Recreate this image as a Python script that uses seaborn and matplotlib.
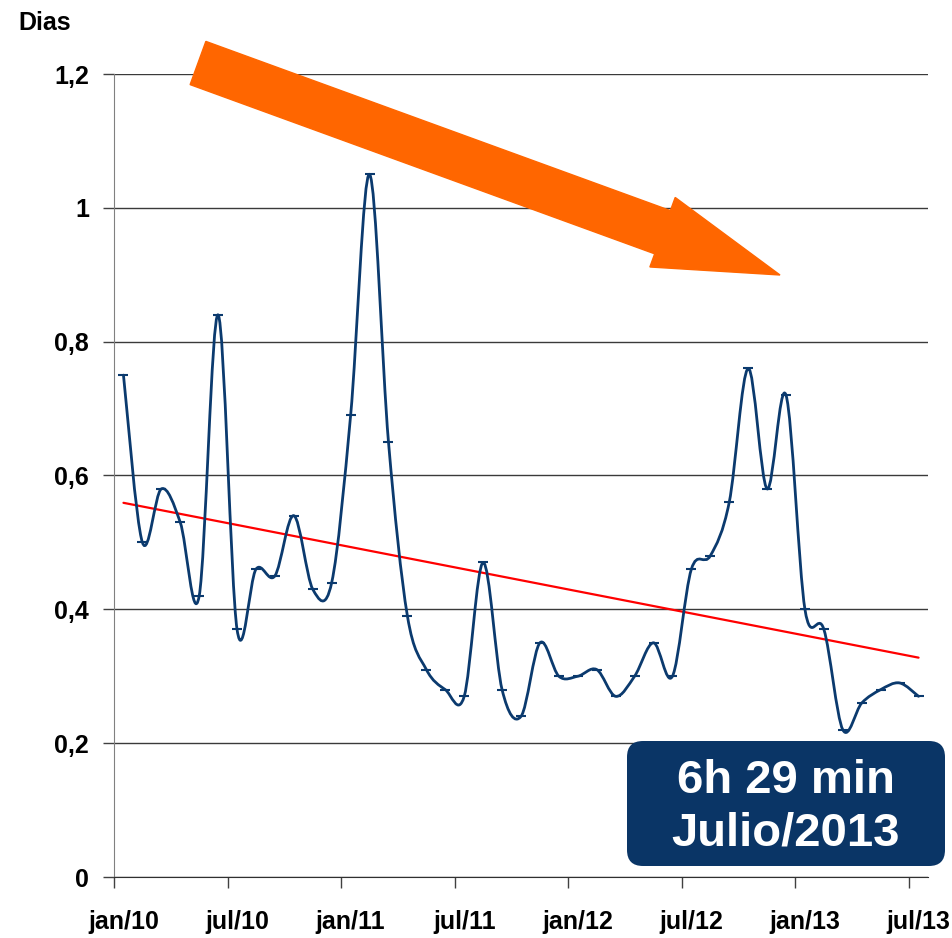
import numpy as np
import seaborn as sns
import matplotlib.pyplot as plt
from matplotlib.path import Path
from matplotlib.patches import PathPatch, FancyArrow, FancyBboxPatch
from matplotlib.transforms import IdentityTransform

# datos mensuales jan/10 .. jul/13 (dias)
valores = [0.75, 0.50, 0.58, 0.53, 0.42, 0.84, 0.37, 0.46, 0.45, 0.54, 0.43, 0.44,
           0.69, 1.05, 0.65, 0.39, 0.31, 0.28, 0.27, 0.47, 0.28, 0.24, 0.35, 0.30,
           0.30, 0.31, 0.27, 0.30, 0.35, 0.30, 0.46, 0.48, 0.56, 0.76, 0.58, 0.72,
           0.40, 0.37, 0.22, 0.26, 0.28, 0.29, 0.27]
etiquetas_x = ['jan/10', 'jul/10', 'jan/11', 'jul/11', 'jan/12', 'jul/12', 'jan/13', 'jul/13']
ticks_y = [0, 0.2, 0.4, 0.6, 0.8, 1.0, 1.2]
etiquetas_y = ['0', '0,2', '0,4', '0,6', '0,8', '1', '1,2']

azul = '#0B3A6E'
naranja = '#FF6600'

sns.set_style('white')
plt.rcParams['font.family'] = ['Liberation Sans', 'DejaVu Sans']
plt.rcParams['font.weight'] = 'bold'
plt.rcParams['text.color'] = 'black'
plt.rcParams['xtick.labelcolor'] = 'black'
plt.rcParams['ytick.labelcolor'] = 'black'

fig = plt.figure(figsize=(9.53, 9.38), dpi=100)
ax = fig.add_axes([114 / 953, 1 - 877 / 938, (928 - 114) / 953, (877 - 74) / 938])

x = np.arange(len(valores))
y = np.array(valores)

# linea suavizada (bezier tipo Excel)
pts = np.column_stack([x, y])
n = len(pts)
verts = [pts[0]]
codes = [Path.MOVETO]
for i in range(n - 1):
    p0 = pts[max(i - 1, 0)]
    p1 = pts[i]
    p2 = pts[i + 1]
    p3 = pts[min(i + 2, n - 1)]
    verts += [p1 + (p2 - p0) / 6, p2 - (p3 - p1) / 6, p2]
    codes += [Path.CURVE4] * 3
ax.add_patch(PathPatch(Path(verts, codes), fill=False, edgecolor=azul, lw=2,
                       joinstyle='round', capstyle='round', zorder=3))

sns.scatterplot(x=x, y=y, marker='_', s=50, color=azul, linewidth=1.5, ax=ax, zorder=4)

# tendencia lineal
sns.regplot(x=x, y=y, scatter=False, ci=None, truncate=True, color='red',
            line_kws={'lw': 1.6, 'zorder': 2}, ax=ax)

ax.set_xlim(-0.5, len(valores) - 0.5)
ax.set_ylim(0, 1.2)
ax.set_yticks(ticks_y)
ax.set_yticklabels(etiquetas_y)
ax.set_xticks(np.arange(-0.5, len(valores) - 1, 6))
ax.set_xticklabels([])
ax.set_xticks(np.arange(0, len(valores), 6), minor=True)
ax.set_xticklabels(etiquetas_x, minor=True)
ax.set_xlabel('')
ax.set_ylabel('')

ax.yaxis.grid(True, color='#3a3a3a', lw=1)
ax.set_axisbelow(True)
for s in ['top', 'right']:
    ax.spines[s].set_visible(False)
ax.spines['left'].set_color('#808080')
ax.spines['bottom'].set_color('#303030')
ax.tick_params(axis='y', length=8, width=1, color='#404040', pad=10, labelsize=18,
               left=True, labelcolor='black')
ax.tick_params(axis='x', which='major', length=8, width=1, color='#404040', bottom=True, direction='out')
ax.tick_params(axis='x', which='minor', length=0, pad=24, labelsize=18, labelcolor='black')
for lab in ax.get_xticklabels(minor=True) + ax.get_yticklabels():
    lab.set_fontweight('bold')

fig.text(18 / 953, 1 - 23 / 938, 'Dias', fontsize=18, fontweight='bold', va='center', color='black')

# flecha naranja
flecha = FancyArrow(198, 938 - 63, 582, -212, width=46, head_width=74, head_length=125,
                    length_includes_head=True, color=naranja, transform=IdentityTransform())
fig.add_artist(flecha)

# recuadro
caja = FancyBboxPatch((627, 938 - 866), 318, 125, boxstyle='round,pad=0,rounding_size=16',
                      facecolor='#0A3566', edgecolor='none', transform=IdentityTransform())
fig.add_artist(caja)
fig.text(786 / 953, 1 - 781 / 938, '6h 29 min', color='white', fontsize=34,
         fontweight='bold', ha='center', va='center')
fig.text(786 / 953, 1 - 833 / 938, 'Julio/2013', color='white', fontsize=34,
         fontweight='bold', ha='center', va='center')

fig.savefig('out.png', dpi=100)
